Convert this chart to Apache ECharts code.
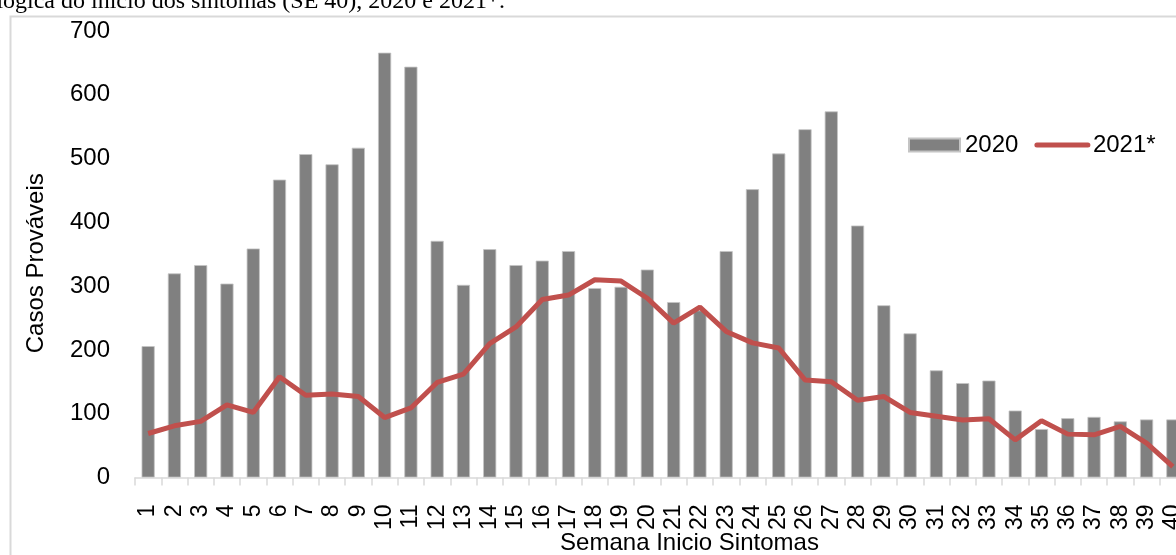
<!DOCTYPE html>
<html>
<head>
<meta charset="utf-8">
<script src="https://cdn.jsdelivr.net/npm/echarts@6/dist/echarts.min.js"></script>
<style>
html,body{margin:0;padding:0;background:#fff;overflow:hidden;}
#chart{width:1176px;height:555px;}
</style>
</head>
<body>
<div id="chart"></div>
<script>
const weeks = ['1','2','3','4','5','6','7','8','9','10','11','12','13','14','15','16','17','18','19','20','21','22','23','24','25','26','27','28','29','30','31','32','33','34','35','36','37','38','39','40'];
const cases2020 = [206,320,333,304,359,467,507,491,517,666,644,371,302,358,333,340,355,297,299,326,275,262,355,452,508,546,574,395,270,226,168,148,152,105,76,93,95,88,91,91];
const cases2021 = [69,81,88,114,102,158,129,131,127,94,109,149,162,210,236,279,286,310,308,281,242,267,229,211,203,153,150,121,127,102,96,90,92,59,89,68,67,80,54,17];
const yTicks = [0,100,200,300,400,500,600,700];
const caption = 'ológica do início dos sintomas (SE 40), 2020 e 2021*.';

const FONT = '"Liberation Sans", Arial, sans-serif';
const chart = echarts.init(document.getElementById('chart'), null, {renderer: 'canvas'});
chart.setOption({
  animation: false,
  backgroundColor: '#fff',
  textStyle: {fontFamily: FONT, color: '#000'},
  graphic: [
    {type: 'rect', left: 8, top: 14, shape: {x: 0, y: 0, width: 1400, height: 800},
     style: {fill: 'none', stroke: '#d9d9d9', lineWidth: 2}, silent: true, z: -10},
    {type: 'text', x: 505, y: 14,
     style: {text: caption, font: '24px "Liberation Serif", "Times New Roman", serif', fill: '#000', align: 'right', verticalAlign: 'bottom'}}
  ],
  legend: {
    left: 903, top: 128,
    itemWidth: 51, itemHeight: 13, itemGap: 16,
    textStyle: {fontSize: 24, fontFamily: FONT, color: '#000'},
    data: [
      {name: '2020', icon: 'rect'},
      {name: '2021*', itemStyle: {opacity: 0}, lineStyle: {width: 5, color: '#C0504D', cap: 'round'}}
    ]
  },
  grid: {left: 135, top: 31, width: 1051, height: 446.5, containLabel: false, outerBoundsMode: 'none'},
  xAxis: {
    type: 'category',
    data: weeks,
    name: 'Semana Inicio Sintomas',
    nameLocation: 'middle',
    nameGap: 54,
    nameMoveOverlap: false,
    nameTextStyle: {fontSize: 24, fontFamily: FONT, color: '#000', padding: [0, 0, 0, 58]},
    axisLine: {lineStyle: {color: '#d9d9d9', width: 1.5}},
    axisTick: {show: true, length: 8, interval: 0, lineStyle: {color: '#d9d9d9', width: 1.5}},
    axisLabel: {interval: 0, rotate: 90, margin: 27, fontSize: 23, fontFamily: FONT, color: '#000'},
    splitLine: {show: false}
  },
  yAxis: {
    type: 'value',
    min: 0, max: 700, interval: 100,
    name: 'Casos Prováveis',
    nameLocation: 'middle',
    nameRotate: 90,
    nameGap: 87,
    nameMoveOverlap: false,
    nameTextStyle: {fontSize: 24, fontFamily: FONT, color: '#000', padding: [0, 18, 0, 0]},
    axisLine: {show: false},
    axisTick: {show: false},
    splitLine: {show: false},
    axisLabel: {fontSize: 24, fontFamily: FONT, color: '#000', margin: 25,
      formatter: function (v) { return yTicks.indexOf(v) >= 0 ? String(v) : ''; }}
  },
  series: [
    {name: '2020', type: 'bar', data: cases2020, barWidth: '50%',
     itemStyle: {color: '#808080', borderColor: '#c4c4c4', borderWidth: 0.8}},
    {name: '2021*', type: 'line', data: cases2021, symbol: 'none', z: 5,
     lineStyle: {color: '#C0504D', width: 5}, itemStyle: {color: '#C0504D'}}
  ]
});
</script>
</body>
</html>
